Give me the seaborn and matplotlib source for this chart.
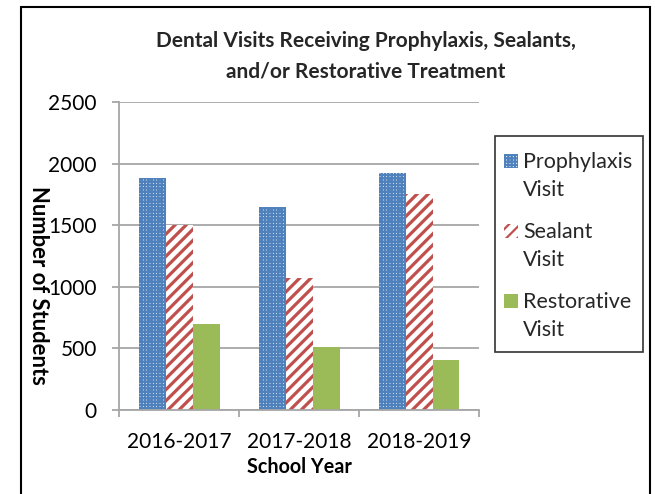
import matplotlib
matplotlib.use('Agg')
import matplotlib.pyplot as plt
import seaborn as sns
import pandas as pd
from matplotlib.patches import Patch, Rectangle
from matplotlib.legend_handler import HandlerPatch

years = ['2016-2017', '2017-2018', '2018-2019']
prophylaxis = [1880, 1650, 1920]
sealant = [1500, 1070, 1750]
restorative = [700, 515, 405]
series_names = ['Prophylaxis Visit', 'Sealant Visit', 'Restorative Visit']
legend_labels = ['Prophylaxis\nVisit', 'Sealant\nVisit', 'Restorative\nVisit']
yticks = [0, 500, 1000, 1500, 2000, 2500]

BLUE = '#4F81BD'
RED = '#C0504D'
GREEN = '#9BBB59'
GRAY = '#a6a6a6'

df = pd.DataFrame({
    'year': years * 3,
    'count': prophylaxis + sealant + restorative,
    'visit': [series_names[0]] * 3 + [series_names[1]] * 3 + [series_names[2]] * 3,
})

sns.set_theme(style='white')
plt.rcParams['font.family'] = ['Lato', 'DejaVu Sans']
plt.rcParams['hatch.linewidth'] = 1.6

fig = plt.figure(figsize=(6.55, 4.94), dpi=100)
ax = fig.add_axes([119 / 655, 1 - 410 / 494, 360 / 655, 308 / 494])

sns.barplot(data=df, x='year', y='count', hue='visit', hue_order=series_names,
            palette=['white', 'white', GREEN], saturation=1, width=0.675,
            ax=ax, legend=False, errorbar=None)

styles = [
    dict(edgecolor=BLUE, hatch='+++++', hlw=1.65),
    dict(edgecolor=RED, hatch='///', hlw=2.3),
    dict(edgecolor=GREEN, hatch=None, hlw=None),
]
for cont, st in zip(ax.containers, styles):
    for p in cont:
        p.set_linewidth(0)
        if st['hatch']:
            p.set_edgecolor(st['edgecolor'])
            p.set_hatch(st['hatch'])
            if hasattr(p, 'set_hatch_linewidth'):
                p.set_hatch_linewidth(st['hlw'])

ax.set_xlim(-0.5, 2.5)
ax.set_ylim(0, 2500)
ax.set_yticks(yticks)
ax.set_yticklabels([str(v) for v in yticks])
ax.yaxis.grid(True, color=GRAY, lw=1.3)
ax.set_axisbelow(True)
for s in ['top', 'right']:
    ax.spines[s].set_visible(False)
for s in ['left', 'bottom']:
    ax.spines[s].set_color(GRAY)
    ax.spines[s].set_linewidth(1.3)

ax.tick_params(axis='y', left=True, direction='out', length=5, width=1.3,
               color=GRAY, pad=11, labelsize=15, labelcolor='black')
ax.set_xticks([-0.5, 0.5, 1.5, 2.5], minor=True)
ax.tick_params(axis='x', which='minor', bottom=True, direction='out', length=5,
               width=1.3, color=GRAY)
ax.tick_params(axis='x', which='major', bottom=False, length=0, pad=15.5,
               labelsize=15, labelcolor='black')

ax.set_xlabel('School Year', fontsize=14.2, fontweight='bold', color='black', labelpad=3.8)
ax.set_ylabel('Number of Students', fontsize=15.8, fontweight='bold', color='black',
              rotation=-90, va='center', ha='center')
ax.yaxis.set_label_coords((38 - 119) / 360, (410 - 285) / 308)

fig.text(366 / 655, 1 - 31 / 494,
         'Dental Visits Receiving Prophylaxis, Sealants,\nand/or Restorative Treatment',
         ha='center', va='top', fontsize=15, fontweight='bold', linespacing=1.68)


class ShiftedPatchHandler(HandlerPatch):
    def __init__(self, yshift, **kw):
        super().__init__(**kw)
        self.yshift = yshift

    def create_artists(self, legend, orig_handle, xdescent, ydescent, width, height,
                       fontsize, trans):
        p = Rectangle((-xdescent, -ydescent + self.yshift), width, height)
        self.update_prop(p, orig_handle, legend)
        p.set_transform(trans)
        return [p]


handles = [
    Patch(facecolor='white', edgecolor=BLUE, hatch='+++++', linewidth=0),
    Patch(facecolor='white', edgecolor=RED, hatch='///', linewidth=0),
    Patch(facecolor=GREEN, edgecolor=GREEN, linewidth=0),
]
hmap = {h: ShiftedPatchHandler(yshift=11) for h in handles}
leg = ax.legend(handles=handles, labels=legend_labels, loc='upper left',
                bbox_to_anchor=(504 / 655, 1 - 152 / 494), bbox_transform=fig.transFigure,
                fontsize=15.5, frameon=False, handlelength=0.65, handleheight=0.65,
                handletextpad=0.25, labelspacing=1.05, borderpad=0, borderaxespad=0,
                handler_map=hmap)
for t in leg.get_texts():
    t.set_linespacing(1.47)

# legend frame box
fig.patches.append(Rectangle((495 / 655, 1 - 352 / 494), (643 - 495) / 655, (352 - 136) / 494,
                             transform=fig.transFigure, fill=False,
                             edgecolor='#333333', linewidth=1.2, zorder=5))

# outer chart border
fig.patches.append(Rectangle((21 / 655, -0.02), (650 - 21) / 655, 1.02 - 7 / 494,
                             transform=fig.transFigure, fill=False,
                             edgecolor='black', linewidth=1.5))

fig.savefig('out.png', dpi=100)
